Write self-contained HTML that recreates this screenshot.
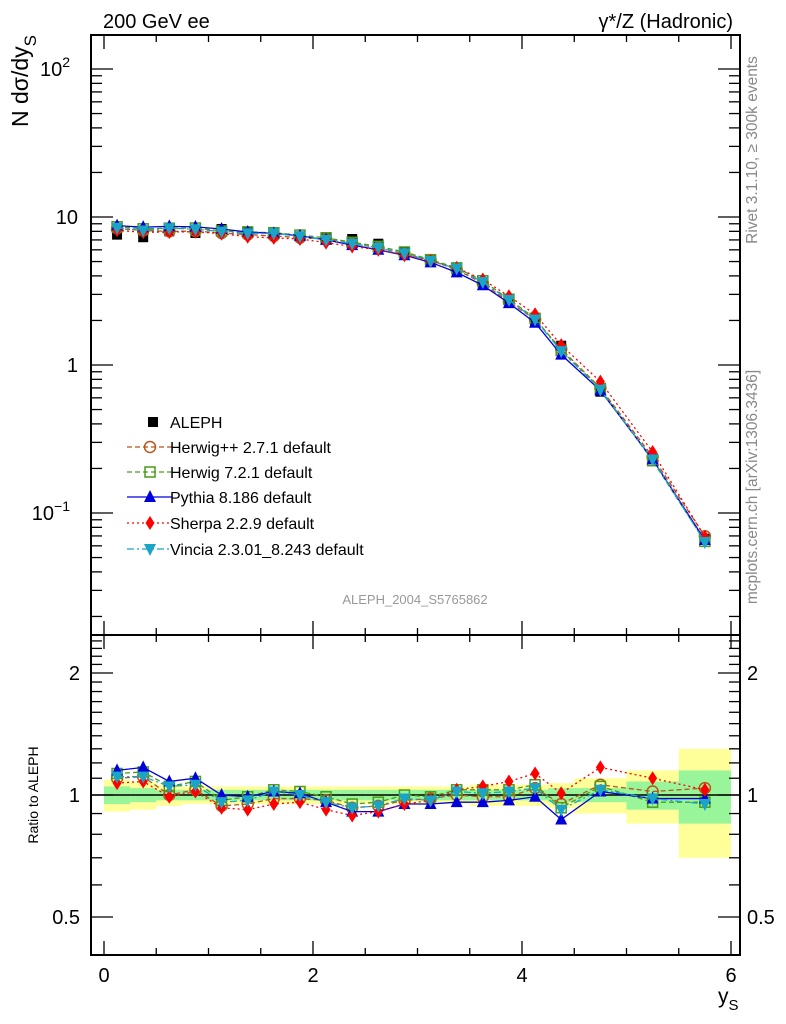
<!DOCTYPE html>
<html><head><meta charset="utf-8"><style>
html,body{margin:0;padding:0;background:#fff;}
svg{display:block;font-family:"Liberation Sans",sans-serif;}
</style></head><body>
<svg id="chart" width="786" height="1024" viewBox="0 0 786 1024" xmlns="http://www.w3.org/2000/svg">
<text x="103" y="28" font-size="20">200 GeV ee</text>
<text x="733" y="28" font-size="20" text-anchor="end">γ*/Z (Hadronic)</text>
<text transform="translate(757,150) rotate(-90)" font-size="15.5" fill="#888" text-anchor="middle">Rivet 3.1.10, ≥ 300k events</text>
<text transform="translate(757,487) rotate(-90)" font-size="15.5" fill="#888" text-anchor="middle">mcplots.cern.ch [arXiv:1306.3436]</text>
<text x="415" y="604" font-size="13" fill="#999" text-anchor="middle">ALEPH_2004_S5765862</text>
<text transform="translate(28,35) rotate(-90)" font-size="23" text-anchor="end">N dσ/dy<tspan font-size="17" dy="8">S</tspan></text>
<text transform="translate(38,795) rotate(-90)" font-size="14" text-anchor="middle">Ratio to ALEPH</text>
<text x="718" y="1003" font-size="21">y<tspan font-size="15" dy="7">S</tspan></text>
<g id="main"></g>
<g id="ratio"></g>
</svg>
<script>
const edges = [0,0.25,0.5,0.75,1,1.25,1.5,1.75,2,2.25,2.5,2.75,3,3.25,3.5,3.75,4,4.25,4.5,5,5.5,6];
const centers = [0.125,0.375,0.625,0.875,1.125,1.375,1.625,1.875,2.125,2.375,2.625,2.875,3.125,3.375,3.625,3.875,4.125,4.375,4.75,5.25,5.75];
const aleph = [7.6,7.3,8.0,7.8,8.3,8.0,7.6,7.4,7.3,7.1,6.6,5.8,5.2,4.4,3.6,2.7,1.95,1.35,0.66,0.235,0.067];
const errTot = [0.09,0.08,0.06,0.05,0.05,0.05,0.05,0.05,0.05,0.05,0.05,0.05,0.05,0.05,0.06,0.06,0.06,0.07,0.1,0.15,0.3];
const errStat = [0.05,0.04,0.03,0.03,0.03,0.03,0.03,0.03,0.03,0.03,0.03,0.03,0.03,0.03,0.03,0.03,0.03,0.04,0.04,0.08,0.15];
const rHerwigPP = [1.10,1.11,1.00,1.03,0.94,0.95,0.98,0.98,0.97,0.93,0.94,0.97,0.98,1.00,0.99,0.99,1.04,0.95,1.06,1.02,1.04];
const rHerwig7 = [1.13,1.14,1.05,1.08,0.97,0.99,1.03,1.02,0.99,0.95,0.96,1.00,0.99,1.03,1.03,1.03,1.06,0.93,1.05,0.96,0.96];
const rPythia = [1.15,1.17,1.08,1.10,1.00,0.99,1.02,1.01,0.96,0.91,0.91,0.95,0.95,0.96,0.96,0.97,0.99,0.87,1.02,0.98,0.98];
const rSherpa = [1.07,1.08,0.99,1.02,0.93,0.92,0.95,0.96,0.92,0.89,0.91,0.95,0.97,1.03,1.05,1.08,1.13,1.01,1.17,1.10,1.03];
const rVincia = [1.11,1.11,1.05,1.06,0.96,0.97,1.02,1.00,0.96,0.93,0.94,0.98,0.97,1.02,1.01,1.02,1.04,0.92,1.03,0.98,0.95];
const seriesNames = ["ALEPH","Herwig++ 2.7.1 default","Herwig 7.2.1 default","Pythia 8.186 default","Sherpa 2.2.9 default","Vincia 2.3.01_8.243 default"];
const xTicks = [0,2,4,6];

const NS="http://www.w3.org/2000/svg";
const L=91,R=740,MT=35,MB=635,RB=955;
const X=v=>104+v*104.5;
const Y=v=>365-148*Math.log10(v);
const YR=r=>795-122*Math.log2(r);
function el(tag,attrs,parent){const e=document.createElementNS(NS,tag);for(const k in attrs)e.setAttribute(k,attrs[k]);parent.appendChild(e);return e;}
const main=document.getElementById('main'), ratio=document.getElementById('ratio');

for(let i=0;i<centers.length;i++){
  let b=el('rect',{x:X(edges[i]),y:YR(1+errTot[i]),width:X(edges[i+1])-X(edges[i]),height:YR(1-errTot[i])-YR(1+errTot[i]),fill:'#ffff99'},ratio);
  
  
}
for(let i=0;i<centers.length;i++){
  let b=el('rect',{x:X(edges[i]),y:YR(1+errStat[i]),width:X(edges[i+1])-X(edges[i]),height:YR(1-errStat[i])-YR(1+errStat[i]),fill:'#99f599'},ratio);
  
  
}
let one=el('line',{x1:L,x2:R,y1:YR(1),y2:YR(1),stroke:'#000','stroke-width':1.5},ratio);



function frame(g,top,bot,name){
  let f=el('rect',{x:L,y:top,width:R-L,height:bot-top,fill:'none',stroke:'#000','stroke-width':2},g);
  
  
  for(let v=0;v<=6.01;v+=0.5){
    const maj=Math.abs(v-Math.round(v/2)*2)<0.01; const len=maj?14:7;
    el('line',{x1:X(v),x2:X(v),y1:bot,y2:bot-len,stroke:'#000','stroke-width':1.3},g);
    el('line',{x1:X(v),x2:X(v),y1:top,y2:top+len,stroke:'#000','stroke-width':1.3},g);
  }
}
frame(main,MT,MB,'main-plot-frame');
frame(ratio,MB,RB,'ratio-plot-frame');
for(let d=-2;d<=2;d++){for(let m=1;m<=9;m++){const v=m*Math.pow(10,d);const y=Y(v);if(y<MT||y>MB)continue;const len=m==1?22:11;
  el('line',{x1:L,x2:L+len,y1:y,y2:y,stroke:'#000','stroke-width':1.3},main);
  el('line',{x1:R,x2:R-len,y1:y,y2:y,stroke:'#000','stroke-width':1.3},main);}}
const yLabels=[[100,'10','2'],[10,'10',''],[1,'1',''],[0.1,'10','−1']];
yLabels.forEach(l=>{const t=el('text',{x:l[2]?70:78,y:Y(l[0])+7,'font-size':20,'text-anchor':'end'},main);
  
  
  t.textContent=l[1]; if(l[2]){const s=el('tspan',{dy:-9,'font-size':14},t);s.textContent=l[2];}});
for(let r=0.4;r<=2.5;r+=0.1){const y=YR(r);if(y<MB||y>RB)continue;const maj=[0.5,1,2].some(q=>Math.abs(q-r)<0.01);const len=maj?22:11;
  el('line',{x1:L,x2:L+len,y1:y,y2:y,stroke:'#000','stroke-width':1.3},ratio);
  el('line',{x1:R,x2:R-len,y1:y,y2:y,stroke:'#000','stroke-width':1.3},ratio);}
[[2,'2'],[1,'1'],[0.5,'0.5']].forEach(l=>{
  let t=el('text',{x:80,y:YR(l[0])+7,'font-size':20,'text-anchor':'end'},ratio);
  
  
  t.textContent=l[1];
  let t2=el('text',{x:747,y:YR(l[0])+7,'font-size':20},ratio);
  
  
  t2.textContent=l[1];});
xTicks.forEach(v=>{let t=el('text',{x:X(v),y:982,'font-size':20,'text-anchor':'middle'},ratio);
  
  
  t.textContent=v;});

function marker(g,kind,color,x,y){
  if(kind=='square') return el('rect',{x:x-5,y:y-5,width:10,height:10,fill:color},g);
  if(kind=='osquare') return el('rect',{x:x-5,y:y-5,width:10,height:10,fill:'none',stroke:color,'stroke-width':1.5},g);
  if(kind=='ocircle') return el('circle',{cx:x,cy:y,r:5.5,fill:'none',stroke:color,'stroke-width':1.5},g);
  if(kind=='tri') return el('polygon',{points:`${x},${y-7} ${x-6},${y+5} ${x+6},${y+5}`,fill:color},g);
  if(kind=='itri') return el('polygon',{points:`${x},${y+7} ${x-6},${y-5} ${x+6},${y-5}`,fill:color},g);
  if(kind=='diamond') return el('polygon',{points:`${x},${y-7} ${x-4.5},${y} ${x},${y+7} ${x+4.5},${y}`,fill:color},g);
}
const mcs=[
 {r:rHerwigPP,c:'#b5561a',k:'ocircle',d:'5,3',n:'herwigpp'},
 {r:rHerwig7,c:'#4c9a1a',k:'osquare',d:'5,3',n:'herwig7'},
 {r:rPythia,c:'#0000dd',k:'tri',d:'',n:'pythia'},
 {r:rSherpa,c:'#ff0000',k:'diamond',d:'2,3',n:'sherpa'},
 {r:rVincia,c:'#1aa5c8',k:'itri',d:'7,3,2,3',n:'vincia'}];
aleph.forEach((v,i)=>{const m=marker(main,'square','#000',X(centers[i]),Y(v));
  
  });
mcs.forEach(s=>{
  const pm=centers.map((c,i)=>X(c)+','+Y(aleph[i]*s.r[i])).join(' ');
  const l=el('polyline',{points:pm,fill:'none',stroke:s.c,'stroke-width':1.3,'stroke-dasharray':s.d},main);
  
  
  const pr=centers.map((c,i)=>X(c)+','+YR(s.r[i])).join(' ');
  const l2=el('polyline',{points:pr,fill:'none',stroke:s.c,'stroke-width':1.3,'stroke-dasharray':s.d},ratio);
  
  
  centers.forEach((c,i)=>{
    const m=marker(main,s.k,s.c,X(c),Y(aleph[i]*s.r[i]));
    
    
    const m2=marker(ratio,s.k,s.c,X(c),YR(s.r[i]));
    
    
  });
});
const leg=el('g',{},main);


const ly=[422,447,472,497,523,549];
seriesNames.forEach((n,i)=>{
  const g=el('g',{},leg);
  
  
  if(i==0){marker(g,'square','#000',153,ly[i]);}
  else{const s=mcs[i-1];el('line',{x1:127,x2:172,y1:ly[i],y2:ly[i],stroke:s.c,'stroke-width':1.3,'stroke-dasharray':s.d},g);marker(g,s.k,s.c,150,ly[i]);}
  const t=el('text',{x:170,y:ly[i]+6,'font-size':16},g);t.textContent=n;
});
</script>
</body></html>
